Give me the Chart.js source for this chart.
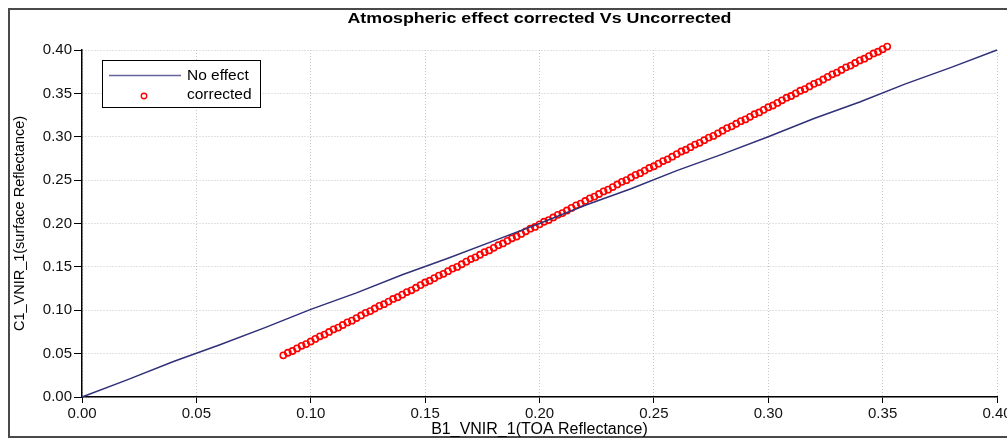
<!DOCTYPE html>
<html>
<head>
<meta charset="utf-8">
<script src="https://cdn.jsdelivr.net/npm/chart.js@4/dist/chart.umd.min.js"></script>
<style>
  html, body { margin: 0; padding: 0; background: #fff; overflow: hidden; }
  #frame { position: absolute; left: 8px; top: 8px; width: 1020px; height: 426px; border: 2px solid #4a4a4a; }
  #c { position: absolute; left: 0; top: 0; }
</style>
</head>
<body>
<div id="frame"></div>
<canvas id="c" width="1007" height="439"></canvas>
<script>
// ---- data ----
const titleText = 'Atmospheric effect corrected Vs Uncorrected';
const xAxisTitle = 'B1_VNIR_1(TOA Reflectance)';
const yAxisTitle = 'C1_VNIR_1(surface Reflectance)';
const seriesNames = ['No effect', 'corrected'];
const tickValues = [0, 0.05, 0.10, 0.15, 0.20, 0.25, 0.30, 0.35, 0.40];

const noEffectX = [0, 0.02, 0.04, 0.06, 0.08, 0.10, 0.12, 0.14, 0.16, 0.18, 0.20, 0.22, 0.24, 0.26, 0.28, 0.30, 0.32, 0.34, 0.36, 0.38, 0.40];
const noEffectY = [0, 0.020, 0.041, 0.060, 0.080, 0.101, 0.120, 0.141, 0.160, 0.180, 0.200, 0.221, 0.240, 0.261, 0.280, 0.300, 0.321, 0.340, 0.361, 0.380, 0.400];

const correctedX = [
  0.088,0.090,0.092,0.094,0.096,0.098,0.100,0.102,0.104,0.106,0.108,0.110,0.112,0.114,0.116,0.118,0.120,0.122,0.124,0.126,
  0.128,0.130,0.132,0.134,0.136,0.138,0.140,0.142,0.144,0.146,0.148,0.150,0.152,0.154,0.156,0.158,0.160,0.162,0.164,0.166,
  0.168,0.170,0.172,0.174,0.176,0.178,0.180,0.182,0.184,0.186,0.188,0.190,0.192,0.194,0.196,0.198,0.200,0.202,0.204,0.206,
  0.208,0.210,0.212,0.214,0.216,0.218,0.220,0.222,0.224,0.226,0.228,0.230,0.232,0.234,0.236,0.238,0.240,0.242,0.244,0.246,
  0.248,0.250,0.252,0.254,0.256,0.258,0.260,0.262,0.264,0.266,0.268,0.270,0.272,0.274,0.276,0.278,0.280,0.282,0.284,0.286,
  0.288,0.290,0.292,0.294,0.296,0.298,0.300,0.302,0.304,0.306,0.308,0.310,0.312,0.314,0.316,0.318,0.320,0.322,0.324,0.326,
  0.328,0.330,0.332,0.334,0.336,0.338,0.340,0.342,0.344,0.346,0.348,0.350,0.352
];
const correctedY = [
  0.048,0.051,0.053,0.056,0.059,0.061,0.064,0.067,0.070,0.072,0.075,0.078,0.080,0.083,0.086,0.088,0.091,0.094,0.097,0.099,
  0.102,0.105,0.107,0.110,0.113,0.115,0.118,0.121,0.123,0.126,0.129,0.132,0.134,0.137,0.140,0.142,0.145,0.148,0.150,0.153,
  0.156,0.159,0.161,0.164,0.167,0.169,0.172,0.175,0.177,0.180,0.183,0.185,0.188,0.191,0.194,0.196,0.199,0.202,0.204,0.207,
  0.210,0.212,0.215,0.218,0.221,0.223,0.226,0.229,0.231,0.234,0.237,0.239,0.242,0.245,0.248,0.250,0.253,0.256,0.258,0.261,
  0.264,0.266,0.269,0.272,0.274,0.277,0.280,0.283,0.285,0.288,0.291,0.293,0.296,0.299,0.301,0.304,0.307,0.310,0.312,0.315,
  0.318,0.320,0.323,0.326,0.328,0.331,0.334,0.336,0.339,0.342,0.345,0.347,0.350,0.353,0.355,0.358,0.361,0.363,0.366,0.369,
  0.372,0.374,0.377,0.380,0.382,0.385,0.388,0.390,0.393,0.396,0.398,0.401,0.404
];

// ---- styles ----
const lineColor = '#30307a';
const pointColor = '#ff0000';
const FONT = '"Liberation Sans", Arial, sans-serif';

function fitText(ctx, text, x, y, targetWidth) {
  const w = ctx.measureText(text).width;
  const s = targetWidth / w;
  ctx.save();
  ctx.translate(x, y);
  ctx.scale(s, 1);
  ctx.fillText(text, 0, 0);
  ctx.restore();
}

const annotations = {
  id: 'annotations',
  afterDraw(chart) {
    const ctx = chart.ctx;
    const area = chart.chartArea;
    const cx = (area.left + area.right) / 2;
    const cy = (area.top + area.bottom) / 2;
    ctx.save();
    ctx.fillStyle = '#000';
    ctx.textAlign = 'center';
    ctx.textBaseline = 'middle';
    // title
    ctx.font = 'bold 15px ' + FONT;
    fitText(ctx, titleText, cx, 19, 384);
    // x title
    ctx.font = '16px ' + FONT;
    ctx.fillText(xAxisTitle, cx, 430);
    // y title
    ctx.save();
    ctx.translate(20, cy);
    ctx.rotate(-Math.PI / 2);
    ctx.font = '14.5px ' + FONT;
    ctx.fillText(yAxisTitle, 0, 0);
    ctx.restore();
    // legend
    const bx = 102.5, by = 60.5, bw = 158, bh = 47;
    ctx.fillStyle = '#fff';
    ctx.fillRect(bx, by, bw, bh);
    ctx.strokeStyle = '#000';
    ctx.lineWidth = 1;
    ctx.strokeRect(bx, by, bw, bh);
    const ds = chart.data.datasets;
    ctx.strokeStyle = ds[0].borderColor;
    ctx.globalAlpha = 0.75;
    ctx.lineWidth = 1.5;
    ctx.beginPath();
    ctx.moveTo(109, 75.5);
    ctx.lineTo(181, 75.5);
    ctx.stroke();
    ctx.globalAlpha = 1;
    ctx.strokeStyle = ds[1].borderColor;
    ctx.lineWidth = 1.4;
    ctx.beginPath();
    ctx.arc(144, 96, 2.7, 0, Math.PI * 2);
    ctx.stroke();
    ctx.fillStyle = '#000';
    ctx.font = '15.5px ' + FONT;
    ctx.textAlign = 'left';
    ctx.fillText(ds[0].label, 187, 76);
    ctx.fillText(ds[1].label, 187, 95);
    ctx.restore();
  }
};

const axisCommon = (tickLen) => ({
  type: 'linear',
  min: 0,
  max: 0.4,
  afterBuildTicks(scale) { scale.ticks = tickValues.map(v => ({ value: v })); },
  ticks: {
    color: '#111',
    font: { family: FONT, size: 15 },
    padding: 2,
    callback: v => Number(v).toFixed(2)
  },
  grid: {
    color: '#c4c4c4',
    lineWidth: 1,
    tickColor: '#000',
    tickLength: tickLen,
    tickWidth: 1,
    tickBorderDash: []
  },
  border: { display: true, color: '#000', width: 1.5, dash: [1, 2] }
});

const xOpts = axisCommon(6);
xOpts.afterFit = (s) => { s.height = 42; s.paddingLeft = 0; s.paddingRight = 0; };
const yOpts = axisCommon(8);
yOpts.afterFit = (s) => { s.width = 82; s.paddingTop = 0; s.paddingBottom = 0; };

new Chart(document.getElementById('c'), {
  type: 'scatter',
  data: {
    datasets: [
      {
        label: seriesNames[0],
        data: noEffectX.map((x, i) => ({ x, y: noEffectY[i] })),
        showLine: true,
        borderColor: lineColor,
        borderWidth: 1.5,
        pointRadius: 0,
        tension: 0,
        clip: false,
        order: 0
      },
      {
        label: seriesNames[1],
        data: correctedX.map((x, i) => ({ x, y: correctedY[i] })),
        showLine: false,
        borderColor: pointColor,
        backgroundColor: 'rgba(0,0,0,0)',
        pointRadius: 3.1,
        pointBorderWidth: 1.6,
        clip: false,
        order: 1
      }
    ]
  },
  options: {
    responsive: false,
    animation: false,
    layout: { padding: { top: 50, right: 10, left: 0, bottom: 0 } },
    plugins: { legend: { display: false }, title: { display: false }, tooltip: { enabled: false } },
    scales: { x: xOpts, y: yOpts }
  },
  plugins: [annotations]
});
</script>
</body>
</html>
